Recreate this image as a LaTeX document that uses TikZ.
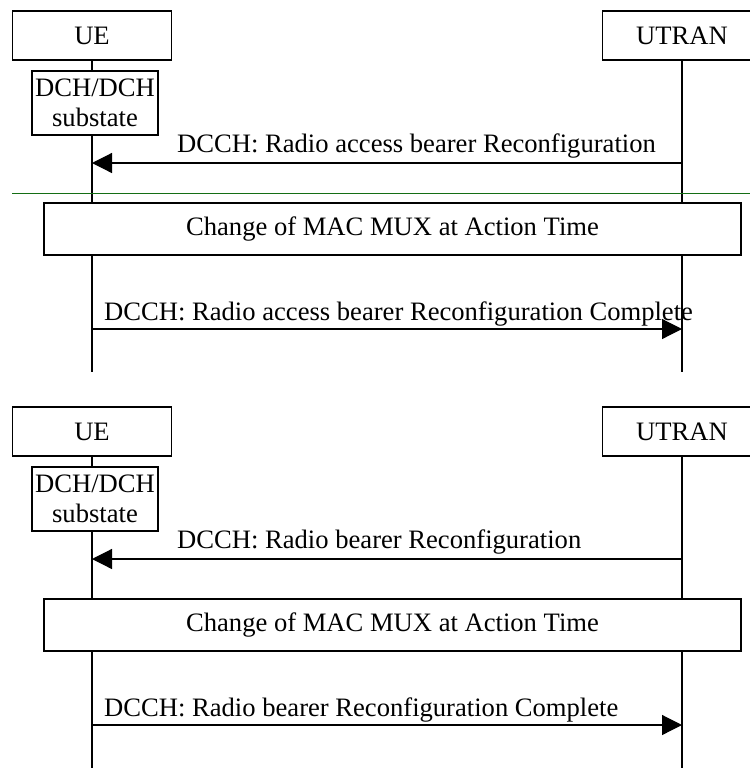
\documentclass[tikz,border=0pt]{standalone}
\usepackage{fontspec}
\setmainfont{Liberation Serif}
\usetikzlibrary{arrows.meta}
\definecolor{sepgreen}{RGB}{20,110,20}
\begin{document}
\begin{tikzpicture}[x=1pt,y=-1pt,
  every node/.style={font=\fontsize{26.6}{30}\selectfont},
  entity/.style={draw,line width=1.2pt,fill=white,minimum width=159pt,minimum height=49pt,inner sep=0pt},
  statebox/.style={draw,line width=1.2pt,fill=white,minimum width=126pt,minimum height=64pt,inner sep=0pt,align=center},
  actionbox/.style={draw,line width=1.2pt,fill=white,minimum width=697pt,minimum height=52pt,inner sep=0pt},
  lifeline/.style={line width=1.2pt},
  msg/.style={line width=1.2pt,-{Triangle[length=20pt,width=20pt]}},
  msglabel/.style={anchor=base west,inner sep=0pt},
  separator/.style={line width=0.8pt,draw=sepgreen}]
\useasboundingbox (0,0) rectangle (750,772);

% ---- first sequence: radio access bearer reconfiguration ----
\node[entity] (ueA) at (92,35.5) {UE};
\node[entity] (utranA) at (682,35.5) {UTRAN};
\coordinate (ueAend) at (92,372);
\coordinate (utranAend) at (682,372);
\draw[lifeline] (ueA) -- (ueAend);
\draw[lifeline] (utranA) -- (utranAend);
\node[statebox] (stateA) at (95,103) {DCH/DCH\\substate};

\coordinate (mA1u) at (682,163);
\coordinate (mA1e) at (92,163);
\draw[msg] (mA1u) -- (mA1e);
\node[msglabel] (lA1) at (177,152) {DCCH: Radio access bearer Reconfiguration};

\coordinate (sepL) at (12,193.5);
\coordinate (sepR) at (750,193.5);
\draw[separator] (sepL) -- (sepR);

\node[actionbox] (actA) at (392.5,229) {Change of MAC MUX at Action Time};

\coordinate (mA2e) at (92,329);
\coordinate (mA2u) at (682,329);
\draw[msg] (mA2e) -- (mA2u);
\node[msglabel] (lA2) at (104,320.5) {DCCH: Radio access bearer Reconfiguration Complete};

% ---- second sequence: radio bearer reconfiguration ----
\node[entity] (ueB) at (92,431.5) {UE};
\node[entity] (utranB) at (682,431.5) {UTRAN};
\coordinate (ueBend) at (92,768);
\coordinate (utranBend) at (682,768);
\draw[lifeline] (ueB) -- (ueBend);
\draw[lifeline] (utranB) -- (utranBend);
\node[statebox] (stateB) at (95,499) {DCH/DCH\\substate};

\coordinate (mB1u) at (682,559);
\coordinate (mB1e) at (92,559);
\draw[msg] (mB1u) -- (mB1e);
\node[msglabel] (lB1) at (177,548) {DCCH: Radio bearer Reconfiguration};

\node[actionbox] (actB) at (392.5,625) {Change of MAC MUX at Action Time};

\coordinate (mB2e) at (92,725);
\coordinate (mB2u) at (682,725);
\draw[msg] (mB2e) -- (mB2u);
\node[msglabel] (lB2) at (104,716.5) {DCCH: Radio bearer Reconfiguration Complete};
\end{tikzpicture}
\end{document}
